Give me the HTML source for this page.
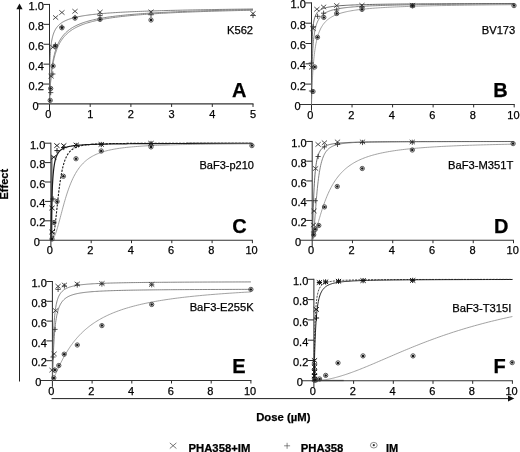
<!DOCTYPE html>
<html><head><meta charset="utf-8"><title>Figure</title>
<style>html,body{margin:0;padding:0;background:#fff;}body{width:520px;height:452px;overflow:hidden;}svg{display:block;}
svg text{font-family:"Liberation Sans",sans-serif;fill:#000;stroke:#000;stroke-width:0.25px;}</style></head>
<body><svg width="520" height="452" viewBox="0 0 520 452">
<rect width="520" height="452" fill="#fff"/>
<line x1="49.50" y1="3.95" x2="49.50" y2="110.25" stroke="#2a2a2a" stroke-width="1"/>
<line x1="37.50" y1="103.95" x2="253.50" y2="103.95" stroke="#333" stroke-width="1.3"/>
<text x="38.50" y="109.55" font-size="11" text-anchor="end">0</text>
<line x1="43.50" y1="84.05" x2="49.50" y2="84.05" stroke="#2a2a2a" stroke-width="1"/>
<text x="43.90" y="89.65" font-size="11" text-anchor="end">0.2</text>
<line x1="43.50" y1="64.15" x2="49.50" y2="64.15" stroke="#2a2a2a" stroke-width="1"/>
<text x="43.90" y="69.75" font-size="11" text-anchor="end">0.4</text>
<line x1="43.50" y1="44.25" x2="49.50" y2="44.25" stroke="#2a2a2a" stroke-width="1"/>
<text x="43.90" y="49.85" font-size="11" text-anchor="end">0.6</text>
<line x1="43.50" y1="24.35" x2="49.50" y2="24.35" stroke="#2a2a2a" stroke-width="1"/>
<text x="43.90" y="29.95" font-size="11" text-anchor="end">0.8</text>
<line x1="43.50" y1="4.45" x2="49.50" y2="4.45" stroke="#2a2a2a" stroke-width="1"/>
<text x="43.90" y="10.05" font-size="11" text-anchor="end">1.0</text>
<text x="48.30" y="118.15" font-size="11" text-anchor="middle">0</text>
<line x1="90.20" y1="103.95" x2="90.20" y2="106.95" stroke="#2a2a2a" stroke-width="1"/>
<text x="90.20" y="118.15" font-size="11" text-anchor="middle">1</text>
<line x1="130.90" y1="103.95" x2="130.90" y2="106.95" stroke="#2a2a2a" stroke-width="1"/>
<text x="130.90" y="118.15" font-size="11" text-anchor="middle">2</text>
<line x1="171.60" y1="103.95" x2="171.60" y2="106.95" stroke="#2a2a2a" stroke-width="1"/>
<text x="171.60" y="118.15" font-size="11" text-anchor="middle">3</text>
<line x1="212.30" y1="103.95" x2="212.30" y2="106.95" stroke="#2a2a2a" stroke-width="1"/>
<text x="212.30" y="118.15" font-size="11" text-anchor="middle">4</text>
<line x1="253.00" y1="103.95" x2="253.00" y2="106.95" stroke="#2a2a2a" stroke-width="1"/>
<text x="253.00" y="118.15" font-size="11" text-anchor="middle">5</text>
<text x="253.10" y="34.10" font-size="11.2" text-anchor="end">K562</text>
<text x="232.10" y="96.50" font-size="20" text-anchor="start" font-weight="bold">A</text>
<polyline points="49.50,103.95 49.50,102.05 49.50,99.18 49.51,95.91 49.52,92.45 49.54,88.95 49.56,85.47 49.58,82.06 49.61,78.77 49.65,75.60 49.70,72.58 49.75,69.70 49.81,66.96 49.88,64.37 49.96,61.92 50.05,59.60 50.14,57.41 50.25,55.34 50.36,53.39 50.49,51.54 50.62,49.79 50.77,48.14 50.93,46.58 51.09,45.11 51.27,43.71 51.46,42.38 51.67,41.12 51.88,39.93 52.11,38.80 52.35,37.72 52.60,36.70 52.86,35.72 53.14,34.79 53.43,33.91 53.74,33.06 54.05,32.26 54.39,31.49 54.73,30.75 55.09,30.05 55.47,29.38 55.86,28.73 56.26,28.11 56.68,27.52 57.12,26.95 57.57,26.41 58.04,25.88 58.52,25.38 59.02,24.90 59.53,24.43 60.06,23.98 60.61,23.55 61.17,23.13 61.75,22.73 62.35,22.34 62.97,21.97 63.60,21.61 64.25,21.26 64.92,20.92 65.60,20.59 66.30,20.28 67.02,19.97 67.76,19.68 68.52,19.39 69.30,19.11 70.09,18.85 70.91,18.59 71.74,18.33 72.59,18.09 73.46,17.85 74.35,17.62 75.26,17.39 76.19,17.18 77.14,16.96 78.11,16.76 79.10,16.56 80.11,16.36 81.14,16.17 82.20,15.99 83.27,15.81 84.36,15.63 85.47,15.46 86.61,15.30 87.76,15.14 88.94,14.98 90.14,14.82 91.36,14.67 92.60,14.53 93.87,14.38 95.15,14.24 96.46,14.11 97.79,13.97 99.14,13.84 100.52,13.72 101.92,13.59 103.34,13.47 104.78,13.35 106.25,13.24 107.74,13.12 109.25,13.01 110.78,12.90 112.34,12.80 113.93,12.69 115.53,12.59 117.16,12.49 118.82,12.39 120.50,12.30 122.20,12.21 123.93,12.11 125.68,12.02 127.45,11.94 129.25,11.85 131.08,11.76 132.93,11.68 134.80,11.60 136.70,11.52 138.63,11.44 140.58,11.36 142.55,11.29 144.55,11.21 146.58,11.14 148.63,11.07 150.71,11.00 152.82,10.93 154.95,10.86 157.10,10.80 159.28,10.73 161.49,10.67 163.73,10.60 165.99,10.54 168.28,10.48 170.59,10.42 172.94,10.36 175.31,10.30 177.70,10.25 180.13,10.19 182.58,10.14 185.05,10.08 187.56,10.03 190.09,9.98 192.65,9.93 195.24,9.87 197.86,9.82 200.50,9.78 203.18,9.73 205.88,9.68 208.61,9.63 211.36,9.59 214.15,9.54 216.96,9.50 219.81,9.45 222.68,9.41 225.58,9.37 228.51,9.32 231.47,9.28 234.46,9.24 237.47,9.20 240.52,9.16 243.59,9.12 246.70,9.08 249.84,9.04 253.00,9.01" fill="none" stroke="#666" stroke-width="0.8"/>
<polyline points="49.50,103.95 49.50,103.86 49.50,103.60 49.51,103.18 49.52,102.61 49.54,101.90 49.56,101.05 49.58,100.07 49.61,98.98 49.65,97.78 49.70,96.47 49.75,95.08 49.81,93.61 49.88,92.08 49.96,90.48 50.05,88.83 50.14,87.15 50.25,85.43 50.36,83.69 50.49,81.94 50.62,80.18 50.77,78.41 50.93,76.65 51.09,74.90 51.27,73.17 51.46,71.45 51.67,69.76 51.88,68.09 52.11,66.44 52.35,64.83 52.60,63.25 52.86,61.71 53.14,60.19 53.43,58.72 53.74,57.28 54.05,55.88 54.39,54.51 54.73,53.18 55.09,51.89 55.47,50.63 55.86,49.41 56.26,48.23 56.68,47.08 57.12,45.97 57.57,44.89 58.04,43.84 58.52,42.82 59.02,41.84 59.53,40.89 60.06,39.96 60.61,39.07 61.17,38.20 61.75,37.36 62.35,36.55 62.97,35.76 63.60,35.00 64.25,34.26 64.92,33.55 65.60,32.85 66.30,32.18 67.02,31.53 67.76,30.90 68.52,30.29 69.30,29.70 70.09,29.12 70.91,28.57 71.74,28.03 72.59,27.50 73.46,26.99 74.35,26.50 75.26,26.02 76.19,25.56 77.14,25.11 78.11,24.67 79.10,24.25 80.11,23.84 81.14,23.44 82.20,23.05 83.27,22.67 84.36,22.30 85.47,21.95 86.61,21.60 87.76,21.26 88.94,20.94 90.14,20.62 91.36,20.31 92.60,20.01 93.87,19.71 95.15,19.43 96.46,19.15 97.79,18.88 99.14,18.61 100.52,18.36 101.92,18.11 103.34,17.86 104.78,17.63 106.25,17.39 107.74,17.17 109.25,16.95 110.78,16.73 112.34,16.52 113.93,16.32 115.53,16.12 117.16,15.93 118.82,15.74 120.50,15.55 122.20,15.37 123.93,15.19 125.68,15.02 127.45,14.85 129.25,14.69 131.08,14.53 132.93,14.37 134.80,14.21 136.70,14.06 138.63,13.92 140.58,13.77 142.55,13.63 144.55,13.50 146.58,13.36 148.63,13.23 150.71,13.10 152.82,12.98 154.95,12.85 157.10,12.73 159.28,12.61 161.49,12.50 163.73,12.38 165.99,12.27 168.28,12.16 170.59,12.06 172.94,11.95 175.31,11.85 177.70,11.75 180.13,11.65 182.58,11.56 185.05,11.46 187.56,11.37 190.09,11.28 192.65,11.19 195.24,11.10 197.86,11.02 200.50,10.93 203.18,10.85 205.88,10.77 208.61,10.69 211.36,10.61 214.15,10.54 216.96,10.46 219.81,10.39 222.68,10.31 225.58,10.24 228.51,10.17 231.47,10.11 234.46,10.04 237.47,9.97 240.52,9.91 243.59,9.84 246.70,9.78 249.84,9.72 253.00,9.66" fill="none" stroke="#666" stroke-width="0.8"/>
<polyline points="49.50,103.95 49.50,103.87 49.50,103.64 49.51,103.26 49.52,102.75 49.54,102.11 49.56,101.34 49.58,100.46 49.61,99.46 49.65,98.37 49.70,97.18 49.75,95.91 49.81,94.57 49.88,93.15 49.96,91.68 50.05,90.16 50.14,88.60 50.25,87.00 50.36,85.37 50.49,83.72 50.62,82.07 50.77,80.40 50.93,78.73 51.09,77.06 51.27,75.40 51.46,73.76 51.67,72.12 51.88,70.51 52.11,68.92 52.35,67.35 52.60,65.81 52.86,64.29 53.14,62.81 53.43,61.35 53.74,59.93 54.05,58.54 54.39,57.18 54.73,55.85 55.09,54.56 55.47,53.30 55.86,52.07 56.26,50.88 56.68,49.71 57.12,48.59 57.57,47.49 58.04,46.42 58.52,45.38 59.02,44.38 59.53,43.40 60.06,42.45 60.61,41.53 61.17,40.64 61.75,39.77 62.35,38.93 62.97,38.11 63.60,37.32 64.25,36.55 64.92,35.80 65.60,35.08 66.30,34.38 67.02,33.70 67.76,33.04 68.52,32.39 69.30,31.77 70.09,31.17 70.91,30.58 71.74,30.01 72.59,29.46 73.46,28.92 74.35,28.40 75.26,27.89 76.19,27.40 77.14,26.92 78.11,26.46 79.10,26.01 80.11,25.57 81.14,25.14 82.20,24.73 83.27,24.32 84.36,23.93 85.47,23.55 86.61,23.18 87.76,22.82 88.94,22.47 90.14,22.12 91.36,21.79 92.60,21.47 93.87,21.15 95.15,20.84 96.46,20.55 97.79,20.25 99.14,19.97 100.52,19.69 101.92,19.42 103.34,19.16 104.78,18.90 106.25,18.65 107.74,18.41 109.25,18.17 110.78,17.94 112.34,17.71 113.93,17.49 115.53,17.27 117.16,17.06 118.82,16.85 120.50,16.65 122.20,16.46 123.93,16.27 125.68,16.08 127.45,15.89 129.25,15.72 131.08,15.54 132.93,15.37 134.80,15.20 136.70,15.04 138.63,14.88 140.58,14.72 142.55,14.57 144.55,14.42 146.58,14.27 148.63,14.13 150.71,13.99 152.82,13.85 154.95,13.72 157.10,13.58 159.28,13.45 161.49,13.33 163.73,13.20 165.99,13.08 168.28,12.96 170.59,12.85 172.94,12.73 175.31,12.62 177.70,12.51 180.13,12.40 182.58,12.30 185.05,12.20 187.56,12.09 190.09,11.99 192.65,11.90 195.24,11.80 197.86,11.71 200.50,11.62 203.18,11.52 205.88,11.44 208.61,11.35 211.36,11.26 214.15,11.18 216.96,11.10 219.81,11.02 222.68,10.94 225.58,10.86 228.51,10.78 231.47,10.71 234.46,10.63 237.47,10.56 240.52,10.49 243.59,10.42 246.70,10.35 249.84,10.28 253.00,10.21" fill="none" stroke="#8a8a8a" stroke-width="1.0"/>
<path d="M53.00 15.29L58.20 19.71M53.00 19.71L58.20 15.29" stroke="#2a2a2a" stroke-width="0.8" fill="none"/>
<path d="M59.30 10.29L64.50 14.71M59.30 14.71L64.50 10.29" stroke="#2a2a2a" stroke-width="0.8" fill="none"/>
<path d="M72.40 9.09L77.60 13.51M72.40 13.51L77.60 9.09" stroke="#2a2a2a" stroke-width="0.8" fill="none"/>
<path d="M97.40 9.89L102.60 14.31M97.40 14.31L102.60 9.89" stroke="#2a2a2a" stroke-width="0.8" fill="none"/>
<path d="M148.40 9.69L153.60 14.11M148.40 14.11L153.60 9.69" stroke="#2a2a2a" stroke-width="0.8" fill="none"/>
<path d="M250.40 11.29L255.60 15.71M250.40 15.71L255.60 11.29" stroke="#2a2a2a" stroke-width="0.8" fill="none"/>
<path d="M48.50 73.99L53.70 78.41M48.50 78.41L53.70 73.99" stroke="#2a2a2a" stroke-width="0.8" fill="none"/>
<path d="M50.20 45.09L55.40 49.51M50.20 49.51L55.40 45.09" stroke="#2a2a2a" stroke-width="0.8" fill="none"/>
<path d="M72.40 17.50L77.60 17.50M75.00 14.90L75.00 20.10" stroke="#2a2a2a" stroke-width="0.8" fill="none"/>
<path d="M97.40 15.60L102.60 15.60M100.00 13.00L100.00 18.20" stroke="#2a2a2a" stroke-width="0.8" fill="none"/>
<path d="M148.40 14.75L153.60 14.75M151.00 12.15L151.00 17.35" stroke="#2a2a2a" stroke-width="0.8" fill="none"/>
<path d="M250.40 15.50L255.60 15.50M253.00 12.90L253.00 18.10" stroke="#2a2a2a" stroke-width="0.8" fill="none"/>
<path d="M52.80 45.00L58.00 45.00M55.40 42.40L55.40 47.60" stroke="#2a2a2a" stroke-width="0.8" fill="none"/>
<path d="M50.20 74.00L55.40 74.00M52.80 71.40L52.80 76.60" stroke="#2a2a2a" stroke-width="0.8" fill="none"/>
<path d="M48.10 92.60L53.30 92.60M50.70 90.00L50.70 95.20" stroke="#2a2a2a" stroke-width="0.8" fill="none"/>
<path d="M59.30 27.00L64.50 27.00M61.90 24.40L61.90 29.60" stroke="#2a2a2a" stroke-width="0.8" fill="none"/>
<circle cx="61.90" cy="27.80" r="2.15" stroke="#3a3a3a" stroke-width="0.85" fill="none"/><circle cx="61.90" cy="27.80" r="1.25" fill="#151515"/>
<circle cx="75.00" cy="18.10" r="2.15" stroke="#3a3a3a" stroke-width="0.85" fill="none"/><circle cx="75.00" cy="18.10" r="1.25" fill="#151515"/>
<circle cx="100.00" cy="19.40" r="2.15" stroke="#3a3a3a" stroke-width="0.85" fill="none"/><circle cx="100.00" cy="19.40" r="1.25" fill="#151515"/>
<circle cx="151.00" cy="20.00" r="2.15" stroke="#3a3a3a" stroke-width="0.85" fill="none"/><circle cx="151.00" cy="20.00" r="1.25" fill="#151515"/>
<circle cx="55.40" cy="46.30" r="2.15" stroke="#3a3a3a" stroke-width="0.85" fill="none"/><circle cx="55.40" cy="46.30" r="1.25" fill="#151515"/>
<circle cx="53.10" cy="66.00" r="2.15" stroke="#3a3a3a" stroke-width="0.85" fill="none"/><circle cx="53.10" cy="66.00" r="1.25" fill="#151515"/>
<circle cx="50.70" cy="88.50" r="2.15" stroke="#3a3a3a" stroke-width="0.85" fill="none"/><circle cx="50.70" cy="88.50" r="1.25" fill="#151515"/>
<circle cx="50.20" cy="100.40" r="2.15" stroke="#3a3a3a" stroke-width="0.85" fill="none"/><circle cx="50.20" cy="100.40" r="1.25" fill="#151515"/>
<line x1="311.50" y1="2.40" x2="311.50" y2="110.70" stroke="#2a2a2a" stroke-width="1"/>
<line x1="299.50" y1="104.40" x2="514.70" y2="104.40" stroke="#333" stroke-width="1.05"/>
<text x="300.50" y="110.00" font-size="11" text-anchor="end">0</text>
<line x1="305.50" y1="84.10" x2="311.50" y2="84.10" stroke="#2a2a2a" stroke-width="1"/>
<text x="305.90" y="89.70" font-size="11" text-anchor="end">0.2</text>
<line x1="305.50" y1="63.80" x2="311.50" y2="63.80" stroke="#2a2a2a" stroke-width="1"/>
<text x="305.90" y="69.40" font-size="11" text-anchor="end">0.4</text>
<line x1="305.50" y1="43.50" x2="311.50" y2="43.50" stroke="#2a2a2a" stroke-width="1"/>
<text x="305.90" y="49.10" font-size="11" text-anchor="end">0.6</text>
<line x1="305.50" y1="23.20" x2="311.50" y2="23.20" stroke="#2a2a2a" stroke-width="1"/>
<text x="305.90" y="28.80" font-size="11" text-anchor="end">0.8</text>
<line x1="305.50" y1="2.90" x2="311.50" y2="2.90" stroke="#2a2a2a" stroke-width="1"/>
<text x="305.90" y="7.90" font-size="11" text-anchor="end">1.0</text>
<text x="310.30" y="118.60" font-size="11" text-anchor="middle">0</text>
<line x1="352.04" y1="104.40" x2="352.04" y2="107.40" stroke="#2a2a2a" stroke-width="1"/>
<text x="351.24" y="118.60" font-size="11" text-anchor="middle">2</text>
<line x1="392.58" y1="104.40" x2="392.58" y2="107.40" stroke="#2a2a2a" stroke-width="1"/>
<text x="391.78" y="118.60" font-size="11" text-anchor="middle">4</text>
<line x1="433.12" y1="104.40" x2="433.12" y2="107.40" stroke="#2a2a2a" stroke-width="1"/>
<text x="432.32" y="118.60" font-size="11" text-anchor="middle">6</text>
<line x1="473.66" y1="104.40" x2="473.66" y2="107.40" stroke="#2a2a2a" stroke-width="1"/>
<text x="472.86" y="118.60" font-size="11" text-anchor="middle">8</text>
<line x1="514.20" y1="104.40" x2="514.20" y2="107.40" stroke="#2a2a2a" stroke-width="1"/>
<text x="513.40" y="118.60" font-size="11" text-anchor="middle">10</text>
<text x="515.30" y="33.70" font-size="11.2" text-anchor="end">BV173</text>
<text x="493.30" y="96.60" font-size="20" text-anchor="start" font-weight="bold">B</text>
<polyline points="311.50,104.40 311.50,103.84 311.50,102.14 311.51,99.38 311.52,95.71 311.53,91.34 311.56,86.50 311.58,81.38 311.61,76.18 311.65,71.03 311.70,66.06 311.75,61.32 311.81,56.87 311.88,52.73 311.96,48.91 312.05,45.40 312.14,42.18 312.25,39.25 312.36,36.58 312.49,34.14 312.62,31.93 312.77,29.91 312.92,28.07 313.09,26.39 313.27,24.86 313.46,23.46 313.66,22.18 313.87,21.01 314.10,19.93 314.33,18.94 314.59,18.03 314.85,17.19 315.13,16.41 315.42,15.69 315.72,15.03 316.04,14.41 316.37,13.83 316.71,13.30 317.07,12.80 317.45,12.34 317.83,11.91 318.24,11.50 318.66,11.12 319.09,10.77 319.54,10.43 320.00,10.12 320.48,9.83 320.98,9.55 321.49,9.29 322.02,9.04 322.57,8.81 323.13,8.58 323.71,8.38 324.30,8.18 324.91,7.99 325.54,7.81 326.19,7.64 326.85,7.48 327.54,7.33 328.24,7.18 328.96,7.05 329.69,6.91 330.45,6.79 331.22,6.67 332.01,6.55 332.82,6.44 333.65,6.34 334.50,6.24 335.37,6.14 336.26,6.05 337.16,5.96 338.09,5.88 339.03,5.79 340.00,5.72 340.99,5.64 341.99,5.57 343.02,5.50 344.07,5.43 345.13,5.37 346.22,5.31 347.33,5.25 348.46,5.19 349.61,5.14 350.79,5.08 351.98,5.03 353.20,4.98 354.43,4.93 355.69,4.89 356.97,4.84 358.28,4.80 359.60,4.76 360.95,4.72 362.32,4.68 363.71,4.64 365.13,4.60 366.56,4.57 368.02,4.53 369.51,4.50 371.01,4.46 372.54,4.43 374.10,4.40 375.67,4.37 377.27,4.34 378.90,4.32 380.55,4.29 382.22,4.26 383.91,4.24 385.63,4.21 387.38,4.19 389.15,4.16 390.94,4.14 392.76,4.12 394.60,4.10 396.47,4.07 398.36,4.05 400.28,4.03 402.22,4.01 404.19,3.99 406.18,3.98 408.20,3.96 410.24,3.94 412.31,3.92 414.41,3.91 416.53,3.89 418.68,3.87 420.85,3.86 423.05,3.84 425.28,3.83 427.53,3.81 429.81,3.80 432.12,3.78 434.45,3.77 436.81,3.76 439.20,3.75 441.61,3.73 444.05,3.72 446.52,3.71 449.02,3.70 451.54,3.68 454.09,3.67 456.67,3.66 459.28,3.65 461.91,3.64 464.57,3.63 467.26,3.62 469.98,3.61 472.73,3.60 475.50,3.59 478.30,3.58 481.14,3.57 484.00,3.56 486.89,3.55 489.80,3.54 492.75,3.54 495.73,3.53 498.73,3.52 501.77,3.51 504.83,3.50 507.92,3.50 511.05,3.49 514.20,3.48" fill="none" stroke="#444" stroke-width="0.8"/>
<polyline points="311.50,104.40 311.50,104.26 311.50,103.76 311.51,102.86 311.52,101.53 311.53,99.79 311.56,97.67 311.58,95.20 311.61,92.43 311.65,89.41 311.70,86.20 311.75,82.86 311.81,79.43 311.88,75.97 311.96,72.51 312.05,69.11 312.14,65.77 312.25,62.53 312.36,59.41 312.49,56.41 312.62,53.55 312.77,50.83 312.92,48.25 313.09,45.81 313.27,43.51 313.46,41.34 313.66,39.31 313.87,37.39 314.10,35.59 314.33,33.91 314.59,32.32 314.85,30.84 315.13,29.45 315.42,28.14 315.72,26.92 316.04,25.77 316.37,24.69 316.71,23.68 317.07,22.72 317.45,21.83 317.83,20.98 318.24,20.19 318.66,19.44 319.09,18.74 319.54,18.07 320.00,17.45 320.48,16.86 320.98,16.30 321.49,15.77 322.02,15.27 322.57,14.79 323.13,14.34 323.71,13.91 324.30,13.51 324.91,13.13 325.54,12.76 326.19,12.41 326.85,12.08 327.54,11.77 328.24,11.47 328.96,11.18 329.69,10.91 330.45,10.65 331.22,10.40 332.01,10.16 332.82,9.94 333.65,9.72 334.50,9.51 335.37,9.31 336.26,9.12 337.16,8.94 338.09,8.77 339.03,8.60 340.00,8.44 340.99,8.28 341.99,8.14 343.02,7.99 344.07,7.85 345.13,7.72 346.22,7.60 347.33,7.47 348.46,7.36 349.61,7.24 350.79,7.13 351.98,7.03 353.20,6.92 354.43,6.83 355.69,6.73 356.97,6.64 358.28,6.55 359.60,6.47 360.95,6.38 362.32,6.30 363.71,6.23 365.13,6.15 366.56,6.08 368.02,6.01 369.51,5.94 371.01,5.87 372.54,5.81 374.10,5.75 375.67,5.69 377.27,5.63 378.90,5.57 380.55,5.52 382.22,5.47 383.91,5.41 385.63,5.36 387.38,5.32 389.15,5.27 390.94,5.22 392.76,5.18 394.60,5.13 396.47,5.09 398.36,5.05 400.28,5.01 402.22,4.97 404.19,4.93 406.18,4.90 408.20,4.86 410.24,4.83 412.31,4.79 414.41,4.76 416.53,4.73 418.68,4.69 420.85,4.66 423.05,4.63 425.28,4.60 427.53,4.57 429.81,4.55 432.12,4.52 434.45,4.49 436.81,4.47 439.20,4.44 441.61,4.42 444.05,4.39 446.52,4.37 449.02,4.35 451.54,4.32 454.09,4.30 456.67,4.28 459.28,4.26 461.91,4.24 464.57,4.22 467.26,4.20 469.98,4.18 472.73,4.16 475.50,4.14 478.30,4.12 481.14,4.10 484.00,4.09 486.89,4.07 489.80,4.05 492.75,4.04 495.73,4.02 498.73,4.01 501.77,3.99 504.83,3.98 507.92,3.96 511.05,3.95 514.20,3.93" fill="none" stroke="#666" stroke-width="0.8"/>
<polyline points="311.50,104.40 311.50,104.37 311.50,104.23 311.51,103.95 311.52,103.52 311.53,102.91 311.56,102.13 311.58,101.15 311.61,99.99 311.65,98.65 311.70,97.14 311.75,95.45 311.81,93.62 311.88,91.65 311.96,89.55 312.05,87.35 312.14,85.06 312.25,82.71 312.36,80.30 312.49,77.87 312.62,75.41 312.77,72.95 312.92,70.50 313.09,68.08 313.27,65.69 313.46,63.34 313.66,61.05 313.87,58.81 314.10,56.63 314.33,54.52 314.59,52.48 314.85,50.50 315.13,48.60 315.42,46.78 315.72,45.02 316.04,43.33 316.37,41.72 316.71,40.17 317.07,38.69 317.45,37.27 317.83,35.92 318.24,34.63 318.66,33.39 319.09,32.21 319.54,31.09 320.00,30.01 320.48,28.99 320.98,28.01 321.49,27.08 322.02,26.19 322.57,25.34 323.13,24.53 323.71,23.75 324.30,23.01 324.91,22.31 325.54,21.63 326.19,20.99 326.85,20.37 327.54,19.78 328.24,19.22 328.96,18.68 329.69,18.16 330.45,17.67 331.22,17.20 332.01,16.74 332.82,16.31 333.65,15.89 334.50,15.49 335.37,15.11 336.26,14.74 337.16,14.39 338.09,14.05 339.03,13.72 340.00,13.41 340.99,13.11 341.99,12.82 343.02,12.54 344.07,12.28 345.13,12.02 346.22,11.77 347.33,11.53 348.46,11.30 349.61,11.08 350.79,10.87 351.98,10.66 353.20,10.46 354.43,10.27 355.69,10.08 356.97,9.90 358.28,9.73 359.60,9.56 360.95,9.40 362.32,9.25 363.71,9.10 365.13,8.95 366.56,8.81 368.02,8.67 369.51,8.54 371.01,8.41 372.54,8.29 374.10,8.17 375.67,8.05 377.27,7.94 378.90,7.83 380.55,7.72 382.22,7.62 383.91,7.52 385.63,7.42 387.38,7.32 389.15,7.23 390.94,7.14 392.76,7.06 394.60,6.97 396.47,6.89 398.36,6.81 400.28,6.73 402.22,6.66 404.19,6.59 406.18,6.51 408.20,6.45 410.24,6.38 412.31,6.31 414.41,6.25 416.53,6.19 418.68,6.13 420.85,6.07 423.05,6.01 425.28,5.95 427.53,5.90 429.81,5.85 432.12,5.79 434.45,5.74 436.81,5.69 439.20,5.64 441.61,5.60 444.05,5.55 446.52,5.51 449.02,5.46 451.54,5.42 454.09,5.38 456.67,5.34 459.28,5.30 461.91,5.26 464.57,5.22 467.26,5.18 469.98,5.15 472.73,5.11 475.50,5.08 478.30,5.04 481.14,5.01 484.00,4.98 486.89,4.94 489.80,4.91 492.75,4.88 495.73,4.85 498.73,4.82 501.77,4.80 504.83,4.77 507.92,4.74 511.05,4.71 514.20,4.69" fill="none" stroke="#8a8a8a" stroke-width="0.8"/>
<path d="M314.30 6.99L319.50 11.41M314.30 11.41L319.50 6.99" stroke="#2a2a2a" stroke-width="0.8" fill="none"/>
<path d="M321.00 4.79L326.20 9.21M321.00 9.21L326.20 4.79" stroke="#2a2a2a" stroke-width="0.8" fill="none"/>
<path d="M334.10 3.29L339.30 7.71M334.10 7.71L339.30 3.29" stroke="#2a2a2a" stroke-width="0.8" fill="none"/>
<path d="M359.30 3.04L364.50 7.46M359.30 7.46L364.50 3.04" stroke="#2a2a2a" stroke-width="0.8" fill="none"/>
<path d="M310.50 26.29L315.70 30.71M310.50 30.71L315.70 26.29" stroke="#2a2a2a" stroke-width="0.8" fill="none"/>
<path d="M409.90 3.09L415.10 7.51M409.90 7.51L415.10 3.09" stroke="#2a2a2a" stroke-width="0.8" fill="none"/>
<path d="M309.00 65.09L314.20 69.51M309.00 69.51L314.20 65.09" stroke="#2a2a2a" stroke-width="0.8" fill="none"/>
<path d="M315.00 16.30L320.20 16.30M317.60 13.70L317.60 18.90" stroke="#2a2a2a" stroke-width="0.8" fill="none"/>
<path d="M321.00 13.20L326.20 13.20M323.60 10.60L323.60 15.80" stroke="#2a2a2a" stroke-width="0.8" fill="none"/>
<path d="M334.10 10.00L339.30 10.00M336.70 7.40L336.70 12.60" stroke="#2a2a2a" stroke-width="0.8" fill="none"/>
<path d="M359.40 6.90L364.60 6.90M362.00 4.30L362.00 9.50" stroke="#2a2a2a" stroke-width="0.8" fill="none"/>
<path d="M310.50 26.80L315.70 26.80M313.10 24.20L313.10 29.40" stroke="#2a2a2a" stroke-width="0.8" fill="none"/>
<path d="M409.90 5.60L415.10 5.60M412.50 3.00L412.50 8.20" stroke="#2a2a2a" stroke-width="0.8" fill="none"/>
<path d="M308.70 63.00L313.90 63.00M311.30 60.40L311.30 65.60" stroke="#2a2a2a" stroke-width="0.8" fill="none"/>
<path d="M308.90 91.00L314.10 91.00M311.50 88.40L311.50 93.60" stroke="#2a2a2a" stroke-width="0.8" fill="none"/>
<circle cx="317.50" cy="37.25" r="2.15" stroke="#3a3a3a" stroke-width="0.85" fill="none"/><circle cx="317.50" cy="37.25" r="1.25" fill="#151515"/>
<circle cx="323.80" cy="17.40" r="2.15" stroke="#3a3a3a" stroke-width="0.85" fill="none"/><circle cx="323.80" cy="17.40" r="1.25" fill="#151515"/>
<circle cx="336.70" cy="13.50" r="2.15" stroke="#3a3a3a" stroke-width="0.85" fill="none"/><circle cx="336.70" cy="13.50" r="1.25" fill="#151515"/>
<circle cx="362.00" cy="9.40" r="2.15" stroke="#3a3a3a" stroke-width="0.85" fill="none"/><circle cx="362.00" cy="9.40" r="1.25" fill="#151515"/>
<circle cx="412.50" cy="5.80" r="2.15" stroke="#3a3a3a" stroke-width="0.85" fill="none"/><circle cx="412.50" cy="5.80" r="1.25" fill="#151515"/>
<circle cx="514.00" cy="5.60" r="2.15" stroke="#3a3a3a" stroke-width="0.85" fill="none"/><circle cx="514.00" cy="5.60" r="1.25" fill="#151515"/>
<circle cx="314.70" cy="67.00" r="2.15" stroke="#3a3a3a" stroke-width="0.85" fill="none"/><circle cx="314.70" cy="67.00" r="1.25" fill="#151515"/>
<circle cx="313.00" cy="91.50" r="2.15" stroke="#3a3a3a" stroke-width="0.85" fill="none"/><circle cx="313.00" cy="91.50" r="1.25" fill="#151515"/>
<line x1="50.90" y1="142.70" x2="50.90" y2="246.50" stroke="#2a2a2a" stroke-width="1"/>
<line x1="38.90" y1="240.20" x2="252.90" y2="240.20" stroke="#333" stroke-width="1.05"/>
<text x="39.90" y="245.80" font-size="11" text-anchor="end">0</text>
<line x1="44.90" y1="220.80" x2="50.90" y2="220.80" stroke="#2a2a2a" stroke-width="1"/>
<text x="45.30" y="226.40" font-size="11" text-anchor="end">0.2</text>
<line x1="44.90" y1="201.40" x2="50.90" y2="201.40" stroke="#2a2a2a" stroke-width="1"/>
<text x="45.30" y="207.00" font-size="11" text-anchor="end">0.4</text>
<line x1="44.90" y1="182.00" x2="50.90" y2="182.00" stroke="#2a2a2a" stroke-width="1"/>
<text x="45.30" y="187.60" font-size="11" text-anchor="end">0.6</text>
<line x1="44.90" y1="162.60" x2="50.90" y2="162.60" stroke="#2a2a2a" stroke-width="1"/>
<text x="45.30" y="168.20" font-size="11" text-anchor="end">0.8</text>
<line x1="44.90" y1="143.20" x2="50.90" y2="143.20" stroke="#2a2a2a" stroke-width="1"/>
<text x="45.30" y="148.80" font-size="11" text-anchor="end">1.0</text>
<text x="49.70" y="254.40" font-size="11" text-anchor="middle">0</text>
<line x1="91.20" y1="240.20" x2="91.20" y2="243.20" stroke="#2a2a2a" stroke-width="1"/>
<text x="90.40" y="254.40" font-size="11" text-anchor="middle">2</text>
<line x1="131.50" y1="240.20" x2="131.50" y2="243.20" stroke="#2a2a2a" stroke-width="1"/>
<text x="130.70" y="254.40" font-size="11" text-anchor="middle">4</text>
<line x1="171.80" y1="240.20" x2="171.80" y2="243.20" stroke="#2a2a2a" stroke-width="1"/>
<text x="171.00" y="254.40" font-size="11" text-anchor="middle">6</text>
<line x1="212.10" y1="240.20" x2="212.10" y2="243.20" stroke="#2a2a2a" stroke-width="1"/>
<text x="211.30" y="254.40" font-size="11" text-anchor="middle">8</text>
<line x1="252.40" y1="240.20" x2="252.40" y2="243.20" stroke="#2a2a2a" stroke-width="1"/>
<text x="251.60" y="254.40" font-size="11" text-anchor="middle">10</text>
<text x="253.90" y="168.50" font-size="11.0" text-anchor="end">BaF3-p210</text>
<text x="232.20" y="233.00" font-size="20" text-anchor="start" font-weight="bold">C</text>
<line x1="51.90" y1="156.00" x2="51.90" y2="240.00" stroke="#333" stroke-width="1.0"/>
<polyline points="50.90,240.20 50.90,240.19 50.90,240.14 50.91,239.98 50.92,239.66 50.93,239.11 50.95,238.30 50.98,237.15 51.01,235.65 51.05,233.76 51.10,231.48 51.15,228.80 51.21,225.77 51.28,222.42 51.36,218.81 51.44,215.00 51.54,211.07 51.64,207.06 51.76,203.06 51.88,199.12 52.01,195.29 52.16,191.60 52.31,188.08 52.48,184.75 52.66,181.63 52.84,178.71 53.04,176.00 53.26,173.49 53.48,171.17 53.72,169.04 53.97,167.08 54.23,165.29 54.50,163.64 54.79,162.13 55.09,160.75 55.41,159.49 55.74,158.33 56.08,157.27 56.44,156.29 56.81,155.40 57.20,154.58 57.60,153.83 58.01,153.14 58.44,152.50 58.89,151.91 59.35,151.37 59.83,150.87 60.32,150.41 60.83,149.98 61.36,149.59 61.90,149.22 62.46,148.88 63.03,148.57 63.63,148.27 64.23,148.00 64.86,147.74 65.50,147.51 66.16,147.28 66.84,147.08 67.54,146.88 68.25,146.70 68.98,146.53 69.73,146.37 70.50,146.22 71.29,146.08 72.10,145.95 72.92,145.82 73.76,145.71 74.63,145.60 75.51,145.49 76.41,145.39 77.33,145.30 78.27,145.21 79.23,145.13 80.21,145.05 81.21,144.98 82.23,144.90 83.27,144.84 84.34,144.77 85.42,144.71 86.52,144.66 87.64,144.60 88.79,144.55 89.95,144.50 91.14,144.45 92.35,144.41 93.58,144.37 94.83,144.32 96.10,144.29 97.40,144.25 98.72,144.21 100.06,144.18 101.42,144.15 102.80,144.11 104.21,144.08 105.64,144.06 107.09,144.03 108.56,144.00 110.06,143.98 111.58,143.95 113.13,143.93 114.69,143.91 116.28,143.89 117.90,143.87 119.54,143.85 121.20,143.83 122.88,143.81 124.59,143.79 126.33,143.78 128.09,143.76 129.87,143.74 131.68,143.73 133.51,143.71 135.36,143.70 137.25,143.69 139.15,143.67 141.08,143.66 143.04,143.65 145.02,143.64 147.03,143.63 149.06,143.61 151.12,143.60 153.20,143.59 155.31,143.58 157.44,143.57 159.61,143.57 161.79,143.56 164.01,143.55 166.25,143.54 168.51,143.53 170.80,143.52 173.12,143.52 175.47,143.51 177.84,143.50 180.24,143.49 182.67,143.49 185.12,143.48 187.60,143.47 190.11,143.47 192.65,143.46 195.21,143.46 197.80,143.45 200.42,143.45 203.07,143.44 205.74,143.43 208.44,143.43 211.17,143.43 213.93,143.42 216.72,143.42 219.53,143.41 222.38,143.41 225.25,143.40 228.15,143.40 231.08,143.39 234.04,143.39 237.02,143.39 240.04,143.38 243.09,143.38 246.16,143.38 249.27,143.37 252.40,143.37" fill="none" stroke="#1a1a1a" stroke-width="1.2"/>
<polyline points="50.90,240.20 50.90,240.20 50.90,240.20 50.91,240.20 50.92,240.20 50.93,240.20 50.95,240.20 50.98,240.20 51.01,240.20 51.05,240.20 51.10,240.20 51.15,240.19 51.21,240.18 51.28,240.17 51.36,240.16 51.44,240.13 51.54,240.09 51.64,240.04 51.76,239.96 51.88,239.86 52.01,239.71 52.16,239.53 52.31,239.28 52.48,238.96 52.66,238.56 52.84,238.05 53.04,237.41 53.26,236.63 53.48,235.68 53.72,234.55 53.97,233.20 54.23,231.62 54.50,229.79 54.79,227.69 55.09,225.33 55.41,222.70 55.74,219.80 56.08,216.66 56.44,213.31 56.81,209.77 57.20,206.09 57.60,202.32 58.01,198.51 58.44,194.70 58.89,190.94 59.35,187.27 59.83,183.74 60.32,180.36 60.83,177.16 61.36,174.15 61.90,171.35 62.46,168.76 63.03,166.37 63.63,164.18 64.23,162.18 64.86,160.36 65.50,158.71 66.16,157.21 66.84,155.86 67.54,154.65 68.25,153.55 68.98,152.56 69.73,151.67 70.50,150.88 71.29,150.16 72.10,149.51 72.92,148.93 73.76,148.41 74.63,147.93 75.51,147.51 76.41,147.13 77.33,146.78 78.27,146.47 79.23,146.19 80.21,145.93 81.21,145.70 82.23,145.49 83.27,145.30 84.34,145.13 85.42,144.98 86.52,144.83 87.64,144.70 88.79,144.59 89.95,144.48 91.14,144.38 92.35,144.29 93.58,144.21 94.83,144.13 96.10,144.07 97.40,144.00 98.72,143.94 100.06,143.89 101.42,143.84 102.80,143.80 104.21,143.76 105.64,143.72 107.09,143.68 108.56,143.65 110.06,143.62 111.58,143.59 113.13,143.57 114.69,143.54 116.28,143.52 117.90,143.50 119.54,143.48 121.20,143.46 122.88,143.45 124.59,143.43 126.33,143.42 128.09,143.41 129.87,143.39 131.68,143.38 133.51,143.37 135.36,143.36 137.25,143.35 139.15,143.34 141.08,143.34 143.04,143.33 145.02,143.32 147.03,143.31 149.06,143.31 151.12,143.30 153.20,143.30 155.31,143.29 157.44,143.29 159.61,143.28 161.79,143.28 164.01,143.27 166.25,143.27 168.51,143.27 170.80,143.26 173.12,143.26 175.47,143.26 177.84,143.25 180.24,143.25 182.67,143.25 185.12,143.25 187.60,143.24 190.11,143.24 192.65,143.24 195.21,143.24 197.80,143.24 200.42,143.23 203.07,143.23 205.74,143.23 208.44,143.23 211.17,143.23 213.93,143.23 216.72,143.23 219.53,143.22 222.38,143.22 225.25,143.22 228.15,143.22 231.08,143.22 234.04,143.22 237.02,143.22 240.04,143.22 243.09,143.22 246.16,143.22 249.27,143.22 252.40,143.22" fill="none" stroke="#1a1a1a" stroke-width="1.1" stroke-dasharray="2.2 1.3"/>
<polyline points="50.90,240.20 50.90,240.20 50.90,240.20 50.91,240.20 50.92,240.20 50.93,240.20 50.95,240.20 50.98,240.20 51.01,240.20 51.05,240.19 51.10,240.19 51.15,240.18 51.21,240.17 51.28,240.16 51.36,240.14 51.44,240.11 51.54,240.08 51.64,240.04 51.76,239.98 51.88,239.91 52.01,239.83 52.16,239.72 52.31,239.59 52.48,239.44 52.66,239.25 52.84,239.04 53.04,238.78 53.26,238.48 53.48,238.14 53.72,237.74 53.97,237.29 54.23,236.78 54.50,236.20 54.79,235.55 55.09,234.82 55.41,234.02 55.74,233.13 56.08,232.15 56.44,231.08 56.81,229.92 57.20,228.66 57.60,227.31 58.01,225.87 58.44,224.33 58.89,222.71 59.35,220.99 59.83,219.20 60.32,217.33 60.83,215.39 61.36,213.39 61.90,211.34 62.46,209.24 63.03,207.10 63.63,204.94 64.23,202.76 64.86,200.58 65.50,198.40 66.16,196.23 66.84,194.08 67.54,191.96 68.25,189.87 68.98,187.82 69.73,185.82 70.50,183.87 71.29,181.98 72.10,180.15 72.92,178.37 73.76,176.67 74.63,175.02 75.51,173.44 76.41,171.93 77.33,170.48 78.27,169.10 79.23,167.78 80.21,166.52 81.21,165.32 82.23,164.19 83.27,163.11 84.34,162.08 85.42,161.11 86.52,160.18 87.64,159.31 88.79,158.48 89.95,157.70 91.14,156.96 92.35,156.26 93.58,155.60 94.83,154.97 96.10,154.38 97.40,153.82 98.72,153.29 100.06,152.79 101.42,152.31 102.80,151.87 104.21,151.44 105.64,151.04 107.09,150.67 108.56,150.31 110.06,149.97 111.58,149.65 113.13,149.35 114.69,149.06 116.28,148.79 117.90,148.53 119.54,148.29 121.20,148.05 122.88,147.83 124.59,147.63 126.33,147.43 128.09,147.24 129.87,147.07 131.68,146.90 133.51,146.74 135.36,146.58 137.25,146.44 139.15,146.30 141.08,146.17 143.04,146.05 145.02,145.93 147.03,145.82 149.06,145.71 151.12,145.61 153.20,145.51 155.31,145.42 157.44,145.33 159.61,145.25 161.79,145.17 164.01,145.09 166.25,145.02 168.51,144.95 170.80,144.88 173.12,144.82 175.47,144.76 177.84,144.70 180.24,144.64 182.67,144.59 185.12,144.54 187.60,144.49 190.11,144.44 192.65,144.40 195.21,144.36 197.80,144.31 200.42,144.28 203.07,144.24 205.74,144.20 208.44,144.17 211.17,144.13 213.93,144.10 216.72,144.07 219.53,144.04 222.38,144.01 225.25,143.99 228.15,143.96 231.08,143.94 234.04,143.91 237.02,143.89 240.04,143.87 243.09,143.85 246.16,143.83 249.27,143.81 252.40,143.79" fill="none" stroke="#8a8a8a" stroke-width="0.8"/>
<path d="M54.30 143.39L59.50 147.81M54.30 147.81L59.50 143.39" stroke="#151515" stroke-width="0.95" fill="none"/>
<path d="M61.15 143.39L66.35 147.81M61.15 147.81L66.35 143.39" stroke="#151515" stroke-width="0.95" fill="none"/>
<path d="M73.65 142.79L78.85 147.21M73.65 147.21L78.85 142.79" stroke="#151515" stroke-width="0.95" fill="none"/>
<path d="M98.65 142.19L103.85 146.61M98.65 146.61L103.85 142.19" stroke="#151515" stroke-width="0.95" fill="none"/>
<path d="M51.15 155.04L56.35 159.46M51.15 159.46L56.35 155.04" stroke="#151515" stroke-width="0.95" fill="none"/>
<path d="M148.40 141.09L153.60 145.51M148.40 145.51L153.60 141.09" stroke="#151515" stroke-width="0.95" fill="none"/>
<path d="M49.40 205.79L54.60 210.21M49.40 210.21L54.60 205.79" stroke="#151515" stroke-width="0.95" fill="none"/>
<path d="M49.40 229.79L54.60 234.21M49.40 234.21L54.60 229.79" stroke="#151515" stroke-width="0.95" fill="none"/>
<path d="M54.40 150.60L59.60 150.60M57.00 148.00L57.00 153.20" stroke="#151515" stroke-width="0.95" fill="none"/>
<path d="M61.15 147.50L66.35 147.50M63.75 144.90L63.75 150.10" stroke="#151515" stroke-width="0.95" fill="none"/>
<path d="M73.65 145.50L78.85 145.50M76.25 142.90L76.25 148.10" stroke="#151515" stroke-width="0.95" fill="none"/>
<path d="M98.65 144.50L103.85 144.50M101.25 141.90L101.25 147.10" stroke="#151515" stroke-width="0.95" fill="none"/>
<path d="M148.40 143.50L153.60 143.50M151.00 140.90L151.00 146.10" stroke="#151515" stroke-width="0.95" fill="none"/>
<path d="M50.40 199.00L55.60 199.00M53.00 196.40L53.00 201.60" stroke="#151515" stroke-width="0.95" fill="none"/>
<circle cx="63.40" cy="176.25" r="2.15" stroke="#3a3a3a" stroke-width="0.85" fill="none"/><circle cx="63.40" cy="176.25" r="1.25" fill="#151515"/>
<circle cx="76.00" cy="158.75" r="2.15" stroke="#3a3a3a" stroke-width="0.85" fill="none"/><circle cx="76.00" cy="158.75" r="1.25" fill="#151515"/>
<circle cx="101.25" cy="151.00" r="2.15" stroke="#3a3a3a" stroke-width="0.85" fill="none"/><circle cx="101.25" cy="151.00" r="1.25" fill="#151515"/>
<circle cx="151.00" cy="146.90" r="2.15" stroke="#3a3a3a" stroke-width="0.85" fill="none"/><circle cx="151.00" cy="146.90" r="1.25" fill="#151515"/>
<circle cx="251.90" cy="145.60" r="2.15" stroke="#3a3a3a" stroke-width="0.85" fill="none"/><circle cx="251.90" cy="145.60" r="1.25" fill="#151515"/>
<circle cx="57.10" cy="201.50" r="2.15" stroke="#3a3a3a" stroke-width="0.85" fill="none"/><circle cx="57.10" cy="201.50" r="1.25" fill="#151515"/>
<circle cx="54.00" cy="222.50" r="2.15" stroke="#3a3a3a" stroke-width="0.85" fill="none"/><circle cx="54.00" cy="222.50" r="1.25" fill="#151515"/>
<circle cx="52.00" cy="239.00" r="2.15" stroke="#3a3a3a" stroke-width="0.85" fill="none"/><circle cx="52.00" cy="239.00" r="1.25" fill="#151515"/>
<line x1="312.20" y1="140.95" x2="312.20" y2="246.50" stroke="#2a2a2a" stroke-width="1"/>
<line x1="300.20" y1="240.20" x2="514.00" y2="240.20" stroke="#333" stroke-width="1.05"/>
<text x="301.20" y="245.80" font-size="11" text-anchor="end">0</text>
<line x1="306.20" y1="220.45" x2="312.20" y2="220.45" stroke="#2a2a2a" stroke-width="1"/>
<text x="306.60" y="226.05" font-size="11" text-anchor="end">0.2</text>
<line x1="306.20" y1="200.70" x2="312.20" y2="200.70" stroke="#2a2a2a" stroke-width="1"/>
<text x="306.60" y="206.30" font-size="11" text-anchor="end">0.4</text>
<line x1="306.20" y1="180.95" x2="312.20" y2="180.95" stroke="#2a2a2a" stroke-width="1"/>
<text x="306.60" y="186.55" font-size="11" text-anchor="end">0.6</text>
<line x1="306.20" y1="161.20" x2="312.20" y2="161.20" stroke="#2a2a2a" stroke-width="1"/>
<text x="306.60" y="166.80" font-size="11" text-anchor="end">0.8</text>
<line x1="306.20" y1="141.45" x2="312.20" y2="141.45" stroke="#2a2a2a" stroke-width="1"/>
<text x="306.60" y="147.05" font-size="11" text-anchor="end">1.0</text>
<text x="311.00" y="254.40" font-size="11" text-anchor="middle">0</text>
<line x1="352.46" y1="240.20" x2="352.46" y2="243.20" stroke="#2a2a2a" stroke-width="1"/>
<text x="351.66" y="254.40" font-size="11" text-anchor="middle">2</text>
<line x1="392.72" y1="240.20" x2="392.72" y2="243.20" stroke="#2a2a2a" stroke-width="1"/>
<text x="391.92" y="254.40" font-size="11" text-anchor="middle">4</text>
<line x1="432.98" y1="240.20" x2="432.98" y2="243.20" stroke="#2a2a2a" stroke-width="1"/>
<text x="432.18" y="254.40" font-size="11" text-anchor="middle">6</text>
<line x1="473.24" y1="240.20" x2="473.24" y2="243.20" stroke="#2a2a2a" stroke-width="1"/>
<text x="472.44" y="254.40" font-size="11" text-anchor="middle">8</text>
<line x1="513.50" y1="240.20" x2="513.50" y2="243.20" stroke="#2a2a2a" stroke-width="1"/>
<text x="512.70" y="254.40" font-size="11" text-anchor="middle">10</text>
<text x="513.30" y="169.20" font-size="11.2" text-anchor="end">BaF3-M351T</text>
<text x="494.10" y="232.50" font-size="20" text-anchor="start" font-weight="bold">D</text>
<polyline points="312.20,240.20 312.20,240.20 312.20,240.19 312.21,240.16 312.22,240.08 312.23,239.93 312.25,239.66 312.28,239.25 312.31,238.64 312.35,237.79 312.40,236.66 312.45,235.22 312.51,233.43 312.58,231.27 312.66,228.74 312.74,225.85 312.84,222.62 312.94,219.10 313.05,215.32 313.18,211.36 313.31,207.29 313.46,203.16 313.61,199.04 313.78,194.99 313.95,191.06 314.14,187.29 314.34,183.70 314.55,180.32 314.78,177.16 315.02,174.21 315.26,171.49 315.53,168.99 315.80,166.69 316.09,164.58 316.39,162.66 316.71,160.90 317.03,159.30 317.38,157.85 317.73,156.53 318.10,155.33 318.49,154.23 318.89,153.24 319.31,152.33 319.74,151.50 320.18,150.75 320.64,150.07 321.12,149.44 321.61,148.87 322.12,148.34 322.65,147.86 323.19,147.42 323.75,147.02 324.32,146.65 324.91,146.31 325.52,146.00 326.15,145.71 326.79,145.44 327.45,145.19 328.13,144.96 328.82,144.75 329.53,144.56 330.27,144.38 331.02,144.21 331.78,144.05 332.57,143.91 333.38,143.77 334.20,143.64 335.04,143.53 335.90,143.42 336.78,143.31 337.69,143.22 338.61,143.13 339.54,143.04 340.50,142.96 341.48,142.89 342.48,142.82 343.50,142.76 344.54,142.69 345.60,142.64 346.68,142.58 347.79,142.53 348.91,142.48 350.05,142.43 351.22,142.39 352.40,142.35 353.61,142.31 354.84,142.28 356.09,142.24 357.36,142.21 358.65,142.18 359.97,142.15 361.31,142.12 362.67,142.09 364.05,142.07 365.46,142.04 366.88,142.02 368.33,142.00 369.81,141.98 371.30,141.96 372.82,141.94 374.36,141.92 375.93,141.90 377.52,141.89 379.13,141.87 380.77,141.86 382.43,141.84 384.11,141.83 385.82,141.82 387.55,141.80 389.31,141.79 391.09,141.78 392.90,141.77 394.73,141.76 396.58,141.75 398.46,141.74 400.36,141.73 402.29,141.72 404.25,141.71 406.23,141.70 408.23,141.70 410.26,141.69 412.32,141.68 414.40,141.67 416.51,141.67 418.64,141.66 420.80,141.65 422.98,141.65 425.19,141.64 427.43,141.64 429.69,141.63 431.98,141.63 434.30,141.62 436.65,141.62 439.02,141.61 441.41,141.61 443.84,141.60 446.29,141.60 448.77,141.59 451.27,141.59 453.81,141.59 456.37,141.58 458.95,141.58 461.57,141.58 464.21,141.57 466.89,141.57 469.59,141.57 472.31,141.56 475.07,141.56 477.85,141.56 480.66,141.56 483.51,141.55 486.38,141.55 489.27,141.55 492.20,141.55 495.16,141.54 498.14,141.54 501.15,141.54 504.20,141.54 507.27,141.53 510.37,141.53 513.50,141.53" fill="none" stroke="#444" stroke-width="0.8"/>
<polyline points="312.20,240.20 312.20,240.20 312.20,240.20 312.21,240.20 312.22,240.20 312.23,240.20 312.25,240.19 312.28,240.18 312.31,240.16 312.35,240.13 312.40,240.09 312.45,240.01 312.51,239.90 312.58,239.75 312.66,239.54 312.74,239.25 312.84,238.88 312.94,238.39 313.05,237.77 313.18,237.00 313.31,236.06 313.46,234.91 313.61,233.55 313.78,231.94 313.95,230.09 314.14,227.97 314.34,225.59 314.55,222.95 314.78,220.06 315.02,216.94 315.26,213.63 315.53,210.16 315.80,206.56 316.09,202.89 316.39,199.19 316.71,195.50 317.03,191.86 317.38,188.32 317.73,184.89 318.10,181.60 318.49,178.48 318.89,175.53 319.31,172.76 319.74,170.18 320.18,167.79 320.64,165.57 321.12,163.53 321.61,161.66 322.12,159.94 322.65,158.37 323.19,156.93 323.75,155.62 324.32,154.43 324.91,153.34 325.52,152.35 326.15,151.45 326.79,150.63 327.45,149.89 328.13,149.21 328.82,148.59 329.53,148.03 330.27,147.52 331.02,147.05 331.78,146.62 332.57,146.23 333.38,145.87 334.20,145.55 335.04,145.25 335.90,144.97 336.78,144.72 337.69,144.49 338.61,144.28 339.54,144.08 340.50,143.90 341.48,143.74 342.48,143.59 343.50,143.45 344.54,143.32 345.60,143.20 346.68,143.09 347.79,142.98 348.91,142.89 350.05,142.80 351.22,142.72 352.40,142.64 353.61,142.57 354.84,142.50 356.09,142.44 357.36,142.38 358.65,142.33 359.97,142.28 361.31,142.24 362.67,142.19 364.05,142.15 365.46,142.11 366.88,142.08 368.33,142.04 369.81,142.01 371.30,141.98 372.82,141.96 374.36,141.93 375.93,141.91 377.52,141.88 379.13,141.86 380.77,141.84 382.43,141.82 384.11,141.80 385.82,141.79 387.55,141.77 389.31,141.76 391.09,141.74 392.90,141.73 394.73,141.72 396.58,141.70 398.46,141.69 400.36,141.68 402.29,141.67 404.25,141.66 406.23,141.65 408.23,141.64 410.26,141.63 412.32,141.63 414.40,141.62 416.51,141.61 418.64,141.61 420.80,141.60 422.98,141.59 425.19,141.59 427.43,141.58 429.69,141.58 431.98,141.57 434.30,141.57 436.65,141.56 439.02,141.56 441.41,141.55 443.84,141.55 446.29,141.55 448.77,141.54 451.27,141.54 453.81,141.54 456.37,141.53 458.95,141.53 461.57,141.53 464.21,141.52 466.89,141.52 469.59,141.52 472.31,141.52 475.07,141.51 477.85,141.51 480.66,141.51 483.51,141.51 486.38,141.51 489.27,141.50 492.20,141.50 495.16,141.50 498.14,141.50 501.15,141.50 504.20,141.50 507.27,141.49 510.37,141.49 513.50,141.49" fill="none" stroke="#666" stroke-width="0.8"/>
<polyline points="312.20,240.20 312.20,240.20 312.20,240.20 312.21,240.20 312.22,240.19 312.23,240.19 312.25,240.18 312.28,240.16 312.31,240.13 312.35,240.10 312.40,240.05 312.45,239.99 312.51,239.91 312.58,239.81 312.66,239.69 312.74,239.55 312.84,239.38 312.94,239.18 313.05,238.94 313.18,238.68 313.31,238.37 313.46,238.03 313.61,237.64 313.78,237.20 313.95,236.72 314.14,236.19 314.34,235.60 314.55,234.96 314.78,234.27 315.02,233.52 315.26,232.71 315.53,231.85 315.80,230.92 316.09,229.94 316.39,228.91 316.71,227.81 317.03,226.66 317.38,225.46 317.73,224.21 318.10,222.90 318.49,221.55 318.89,220.16 319.31,218.73 319.74,217.26 320.18,215.76 320.64,214.23 321.12,212.68 321.61,211.11 322.12,209.52 322.65,207.91 323.19,206.30 323.75,204.69 324.32,203.07 324.91,201.46 325.52,199.85 326.15,198.26 326.79,196.67 327.45,195.11 328.13,193.56 328.82,192.03 329.53,190.53 330.27,189.05 331.02,187.60 331.78,186.17 332.57,184.78 333.38,183.42 334.20,182.09 335.04,180.79 335.90,179.53 336.78,178.30 337.69,177.10 338.61,175.94 339.54,174.81 340.50,173.71 341.48,172.65 342.48,171.62 343.50,170.63 344.54,169.66 345.60,168.73 346.68,167.83 347.79,166.96 348.91,166.11 350.05,165.30 351.22,164.51 352.40,163.75 353.61,163.02 354.84,162.32 356.09,161.63 357.36,160.98 358.65,160.34 359.97,159.73 361.31,159.14 362.67,158.58 364.05,158.03 365.46,157.50 366.88,156.99 368.33,156.50 369.81,156.03 371.30,155.57 372.82,155.13 374.36,154.71 375.93,154.30 377.52,153.91 379.13,153.53 380.77,153.16 382.43,152.81 384.11,152.47 385.82,152.14 387.55,151.82 389.31,151.51 391.09,151.22 392.90,150.93 394.73,150.66 396.58,150.39 398.46,150.14 400.36,149.89 402.29,149.65 404.25,149.42 406.23,149.20 408.23,148.98 410.26,148.77 412.32,148.57 414.40,148.38 416.51,148.19 418.64,148.01 420.80,147.83 422.98,147.66 425.19,147.49 427.43,147.34 429.69,147.18 431.98,147.03 434.30,146.89 436.65,146.75 439.02,146.61 441.41,146.48 443.84,146.35 446.29,146.23 448.77,146.11 451.27,146.00 453.81,145.88 456.37,145.77 458.95,145.67 461.57,145.57 464.21,145.47 466.89,145.37 469.59,145.28 472.31,145.19 475.07,145.10 477.85,145.01 480.66,144.93 483.51,144.85 486.38,144.77 489.27,144.70 492.20,144.62 495.16,144.55 498.14,144.48 501.15,144.41 504.20,144.35 507.27,144.28 510.37,144.22 513.50,144.16" fill="none" stroke="#8a8a8a" stroke-width="0.8"/>
<path d="M315.50 142.19L320.70 146.61M315.50 146.61L320.70 142.19" stroke="#2a2a2a" stroke-width="0.8" fill="none"/>
<path d="M321.80 140.54L327.00 144.96M321.80 144.96L327.00 140.54" stroke="#2a2a2a" stroke-width="0.8" fill="none"/>
<path d="M334.90 139.69L340.10 144.11M334.90 144.11L340.10 139.69" stroke="#2a2a2a" stroke-width="0.8" fill="none"/>
<path d="M359.90 139.69L365.10 144.11M359.90 144.11L365.10 139.69" stroke="#2a2a2a" stroke-width="0.8" fill="none"/>
<path d="M313.00 166.29L318.20 170.71M313.00 170.71L318.20 166.29" stroke="#2a2a2a" stroke-width="0.8" fill="none"/>
<path d="M409.70 139.79L414.90 144.21M409.70 144.21L414.90 139.79" stroke="#2a2a2a" stroke-width="0.8" fill="none"/>
<path d="M311.40 208.79L316.60 213.21M311.40 213.21L316.60 208.79" stroke="#2a2a2a" stroke-width="0.8" fill="none"/>
<path d="M310.90 222.79L316.10 227.21M310.90 227.21L316.10 222.79" stroke="#2a2a2a" stroke-width="0.8" fill="none"/>
<path d="M315.50 156.50L320.70 156.50M318.10 153.90L318.10 159.10" stroke="#2a2a2a" stroke-width="0.8" fill="none"/>
<path d="M321.80 146.90L327.00 146.90M324.40 144.30L324.40 149.50" stroke="#2a2a2a" stroke-width="0.8" fill="none"/>
<path d="M334.90 144.40L340.10 144.40M337.50 141.80L337.50 147.00" stroke="#2a2a2a" stroke-width="0.8" fill="none"/>
<path d="M359.90 142.50L365.10 142.50M362.50 139.90L362.50 145.10" stroke="#2a2a2a" stroke-width="0.8" fill="none"/>
<path d="M409.70 142.30L414.90 142.30M412.30 139.70L412.30 144.90" stroke="#2a2a2a" stroke-width="0.8" fill="none"/>
<path d="M312.70 200.70L317.90 200.70M315.30 198.10L315.30 203.30" stroke="#2a2a2a" stroke-width="0.8" fill="none"/>
<path d="M310.90 232.00L316.10 232.00M313.50 229.40L313.50 234.60" stroke="#2a2a2a" stroke-width="0.8" fill="none"/>
<circle cx="337.25" cy="186.50" r="2.15" stroke="#3a3a3a" stroke-width="0.85" fill="none"/><circle cx="337.25" cy="186.50" r="1.25" fill="#151515"/>
<circle cx="362.25" cy="168.50" r="2.15" stroke="#3a3a3a" stroke-width="0.85" fill="none"/><circle cx="362.25" cy="168.50" r="1.25" fill="#151515"/>
<circle cx="412.30" cy="150.00" r="2.15" stroke="#3a3a3a" stroke-width="0.85" fill="none"/><circle cx="412.30" cy="150.00" r="1.25" fill="#151515"/>
<circle cx="513.10" cy="143.60" r="2.15" stroke="#3a3a3a" stroke-width="0.85" fill="none"/><circle cx="513.10" cy="143.60" r="1.25" fill="#151515"/>
<circle cx="324.50" cy="206.90" r="2.15" stroke="#3a3a3a" stroke-width="0.85" fill="none"/><circle cx="324.50" cy="206.90" r="1.25" fill="#151515"/>
<circle cx="318.80" cy="225.50" r="2.15" stroke="#3a3a3a" stroke-width="0.85" fill="none"/><circle cx="318.80" cy="225.50" r="1.25" fill="#151515"/>
<circle cx="315.25" cy="229.30" r="2.15" stroke="#3a3a3a" stroke-width="0.85" fill="none"/><circle cx="315.25" cy="229.30" r="1.25" fill="#151515"/>
<circle cx="313.70" cy="234.80" r="2.15" stroke="#3a3a3a" stroke-width="0.85" fill="none"/><circle cx="313.70" cy="234.80" r="1.25" fill="#151515"/>
<line x1="52.40" y1="281.00" x2="52.40" y2="386.80" stroke="#2a2a2a" stroke-width="1"/>
<line x1="40.40" y1="380.50" x2="251.40" y2="380.50" stroke="#333" stroke-width="1.05"/>
<text x="41.40" y="386.10" font-size="11" text-anchor="end">0</text>
<line x1="46.40" y1="360.70" x2="52.40" y2="360.70" stroke="#2a2a2a" stroke-width="1"/>
<text x="46.80" y="366.30" font-size="11" text-anchor="end">0.2</text>
<line x1="46.40" y1="340.90" x2="52.40" y2="340.90" stroke="#2a2a2a" stroke-width="1"/>
<text x="46.80" y="346.50" font-size="11" text-anchor="end">0.4</text>
<line x1="46.40" y1="321.10" x2="52.40" y2="321.10" stroke="#2a2a2a" stroke-width="1"/>
<text x="46.80" y="326.70" font-size="11" text-anchor="end">0.6</text>
<line x1="46.40" y1="301.30" x2="52.40" y2="301.30" stroke="#2a2a2a" stroke-width="1"/>
<text x="46.80" y="306.90" font-size="11" text-anchor="end">0.8</text>
<line x1="46.40" y1="281.50" x2="52.40" y2="281.50" stroke="#2a2a2a" stroke-width="1"/>
<text x="46.80" y="287.10" font-size="11" text-anchor="end">1.0</text>
<text x="51.20" y="394.70" font-size="11" text-anchor="middle">0</text>
<line x1="92.10" y1="380.50" x2="92.10" y2="383.50" stroke="#2a2a2a" stroke-width="1"/>
<text x="91.30" y="394.70" font-size="11" text-anchor="middle">2</text>
<line x1="131.80" y1="380.50" x2="131.80" y2="383.50" stroke="#2a2a2a" stroke-width="1"/>
<text x="131.00" y="394.70" font-size="11" text-anchor="middle">4</text>
<line x1="171.50" y1="380.50" x2="171.50" y2="383.50" stroke="#2a2a2a" stroke-width="1"/>
<text x="170.70" y="394.70" font-size="11" text-anchor="middle">6</text>
<line x1="211.20" y1="380.50" x2="211.20" y2="383.50" stroke="#2a2a2a" stroke-width="1"/>
<text x="210.40" y="394.70" font-size="11" text-anchor="middle">8</text>
<line x1="250.90" y1="380.50" x2="250.90" y2="383.50" stroke="#2a2a2a" stroke-width="1"/>
<text x="250.10" y="394.70" font-size="11" text-anchor="middle">10</text>
<text x="253.70" y="311.30" font-size="11.2" text-anchor="end">BaF3-E255K</text>
<text x="232.30" y="372.90" font-size="20" text-anchor="start" font-weight="bold">E</text>
<polyline points="52.40,380.50 52.40,380.47 52.40,380.33 52.41,380.00 52.42,379.42 52.43,378.54 52.45,377.33 52.48,375.78 52.51,373.86 52.55,371.60 52.59,369.01 52.65,366.13 52.71,363.00 52.77,359.66 52.85,356.18 52.93,352.60 53.03,348.98 53.13,345.37 53.24,341.80 53.36,338.31 53.50,334.92 53.64,331.67 53.79,328.57 53.96,325.62 54.13,322.83 54.32,320.20 54.51,317.73 54.72,315.43 54.94,313.27 55.18,311.26 55.42,309.39 55.68,307.65 55.95,306.04 56.23,304.54 56.53,303.14 56.84,301.85 57.17,300.65 57.50,299.53 57.86,298.49 58.22,297.53 58.60,296.63 59.00,295.80 59.41,295.02 59.83,294.29 60.27,293.62 60.73,292.99 61.20,292.40 61.68,291.85 62.19,291.33 62.70,290.85 63.24,290.40 63.79,289.97 64.35,289.58 64.94,289.20 65.54,288.85 66.15,288.52 66.79,288.21 67.44,287.92 68.10,287.64 68.79,287.38 69.49,287.14 70.21,286.90 70.95,286.68 71.71,286.48 72.49,286.28 73.28,286.09 74.09,285.91 74.92,285.75 75.77,285.59 76.64,285.43 77.53,285.29 78.44,285.15 79.36,285.02 80.31,284.90 81.28,284.78 82.26,284.67 83.27,284.56 84.29,284.46 85.34,284.36 86.40,284.26 87.49,284.17 88.60,284.09 89.72,284.01 90.87,283.93 92.04,283.85 93.23,283.78 94.44,283.71 95.68,283.64 96.93,283.58 98.21,283.52 99.50,283.46 100.82,283.40 102.17,283.35 103.53,283.30 104.91,283.25 106.32,283.20 107.75,283.15 109.21,283.11 110.68,283.06 112.18,283.02 113.70,282.98 115.24,282.94 116.81,282.91 118.40,282.87 120.02,282.84 121.65,282.80 123.31,282.77 125.00,282.74 126.71,282.71 128.44,282.68 130.19,282.65 131.97,282.62 133.78,282.60 135.61,282.57 137.46,282.55 139.34,282.52 141.24,282.50 143.17,282.48 145.12,282.45 147.10,282.43 149.10,282.41 151.12,282.39 153.18,282.37 155.25,282.35 157.36,282.33 159.49,282.32 161.64,282.30 163.82,282.28 166.03,282.27 168.26,282.25 170.52,282.24 172.80,282.22 175.11,282.21 177.45,282.19 179.82,282.18 182.21,282.16 184.62,282.15 187.07,282.14 189.54,282.13 192.04,282.11 194.56,282.10 197.11,282.09 199.69,282.08 202.30,282.07 204.93,282.06 207.60,282.05 210.29,282.04 213.00,282.03 215.75,282.02 218.52,282.01 221.32,282.00 224.15,281.99 227.01,281.98 229.90,281.97 232.81,281.97 235.75,281.96 238.73,281.95 241.73,281.94 244.75,281.94 247.81,281.93 250.90,281.92" fill="none" stroke="#666" stroke-width="0.8"/>
<polyline points="52.40,380.50 52.40,380.49 52.40,380.45 52.41,380.33 52.42,380.10 52.43,379.74 52.45,379.21 52.48,378.50 52.51,377.57 52.55,376.42 52.59,375.03 52.65,373.41 52.71,371.55 52.77,369.48 52.85,367.20 52.93,364.73 53.03,362.12 53.13,359.37 53.24,356.53 53.36,353.63 53.50,350.70 53.64,347.76 53.79,344.85 53.96,341.98 54.13,339.18 54.32,336.46 54.51,333.83 54.72,331.31 54.94,328.90 55.18,326.60 55.42,324.43 55.68,322.37 55.95,320.42 56.23,318.59 56.53,316.86 56.84,315.24 57.17,313.73 57.50,312.30 57.86,310.97 58.22,309.73 58.60,308.56 59.00,307.47 59.41,306.45 59.83,305.49 60.27,304.60 60.73,303.76 61.20,302.98 61.68,302.25 62.19,301.56 62.70,300.92 63.24,300.32 63.79,299.75 64.35,299.22 64.94,298.72 65.54,298.26 66.15,297.82 66.79,297.40 67.44,297.01 68.10,296.64 68.79,296.30 69.49,295.97 70.21,295.66 70.95,295.37 71.71,295.10 72.49,294.84 73.28,294.59 74.09,294.36 74.92,294.14 75.77,293.93 76.64,293.73 77.53,293.54 78.44,293.36 79.36,293.19 80.31,293.03 81.28,292.88 82.26,292.73 83.27,292.60 84.29,292.46 85.34,292.34 86.40,292.22 87.49,292.10 88.60,291.99 89.72,291.89 90.87,291.79 92.04,291.69 93.23,291.60 94.44,291.51 95.68,291.43 96.93,291.35 98.21,291.27 99.50,291.20 100.82,291.13 102.17,291.06 103.53,291.00 104.91,290.93 106.32,290.87 107.75,290.82 109.21,290.76 110.68,290.71 112.18,290.66 113.70,290.61 115.24,290.56 116.81,290.51 118.40,290.47 120.02,290.43 121.65,290.39 123.31,290.35 125.00,290.31 126.71,290.27 128.44,290.24 130.19,290.20 131.97,290.17 133.78,290.14 135.61,290.11 137.46,290.08 139.34,290.05 141.24,290.02 143.17,289.99 145.12,289.97 147.10,289.94 149.10,289.92 151.12,289.90 153.18,289.87 155.25,289.85 157.36,289.83 159.49,289.81 161.64,289.79 163.82,289.77 166.03,289.75 168.26,289.73 170.52,289.71 172.80,289.70 175.11,289.68 177.45,289.66 179.82,289.65 182.21,289.63 184.62,289.62 187.07,289.60 189.54,289.59 192.04,289.57 194.56,289.56 197.11,289.55 199.69,289.54 202.30,289.52 204.93,289.51 207.60,289.50 210.29,289.49 213.00,289.48 215.75,289.47 218.52,289.46 221.32,289.45 224.15,289.44 227.01,289.43 229.90,289.42 232.81,289.41 235.75,289.40 238.73,289.39 241.73,289.38 244.75,289.37 247.81,289.36 250.90,289.36" fill="none" stroke="#666" stroke-width="0.8"/>
<polyline points="52.40,380.50 52.40,380.50 52.40,380.50 52.41,380.49 52.42,380.48 52.43,380.46 52.45,380.44 52.48,380.40 52.51,380.36 52.55,380.30 52.59,380.23 52.65,380.14 52.71,380.04 52.77,379.92 52.85,379.79 52.93,379.63 53.03,379.45 53.13,379.25 53.24,379.03 53.36,378.79 53.50,378.52 53.64,378.22 53.79,377.90 53.96,377.55 54.13,377.18 54.32,376.78 54.51,376.35 54.72,375.89 54.94,375.41 55.18,374.89 55.42,374.35 55.68,373.78 55.95,373.18 56.23,372.55 56.53,371.89 56.84,371.21 57.17,370.49 57.50,369.76 57.86,368.99 58.22,368.20 58.60,367.39 59.00,366.56 59.41,365.70 59.83,364.82 60.27,363.92 60.73,363.00 61.20,362.06 61.68,361.11 62.19,360.14 62.70,359.15 63.24,358.16 63.79,357.15 64.35,356.13 64.94,355.10 65.54,354.06 66.15,353.02 66.79,351.97 67.44,350.91 68.10,349.86 68.79,348.80 69.49,347.74 70.21,346.68 70.95,345.62 71.71,344.57 72.49,343.51 73.28,342.47 74.09,341.43 74.92,340.39 75.77,339.36 76.64,338.34 77.53,337.33 78.44,336.32 79.36,335.33 80.31,334.34 81.28,333.37 82.26,332.41 83.27,331.46 84.29,330.52 85.34,329.59 86.40,328.68 87.49,327.78 88.60,326.89 89.72,326.02 90.87,325.16 92.04,324.32 93.23,323.48 94.44,322.67 95.68,321.86 96.93,321.07 98.21,320.30 99.50,319.53 100.82,318.79 102.17,318.05 103.53,317.33 104.91,316.63 106.32,315.93 107.75,315.26 109.21,314.59 110.68,313.94 112.18,313.30 113.70,312.67 115.24,312.06 116.81,311.46 118.40,310.87 120.02,310.30 121.65,309.73 123.31,309.18 125.00,308.64 126.71,308.11 128.44,307.60 130.19,307.09 131.97,306.60 133.78,306.11 135.61,305.64 137.46,305.18 139.34,304.72 141.24,304.28 143.17,303.85 145.12,303.42 147.10,303.01 149.10,302.60 151.12,302.20 153.18,301.82 155.25,301.44 157.36,301.06 159.49,300.70 161.64,300.35 163.82,300.00 166.03,299.66 168.26,299.33 170.52,299.00 172.80,298.68 175.11,298.37 177.45,298.07 179.82,297.77 182.21,297.48 184.62,297.20 187.07,296.92 189.54,296.65 192.04,296.38 194.56,296.12 197.11,295.86 199.69,295.61 202.30,295.37 204.93,295.13 207.60,294.89 210.29,294.67 213.00,294.44 215.75,294.22 218.52,294.01 221.32,293.80 224.15,293.59 227.01,293.39 229.90,293.19 232.81,293.00 235.75,292.81 238.73,292.62 241.73,292.44 244.75,292.26 247.81,292.09 250.90,291.92" fill="none" stroke="#8a8a8a" stroke-width="0.8"/>
<path d="M55.50 284.04L60.70 288.46M55.50 288.46L60.70 284.04" stroke="#2a2a2a" stroke-width="0.8" fill="none"/>
<path d="M61.80 282.79L67.00 287.21M61.80 287.21L67.00 282.79" stroke="#2a2a2a" stroke-width="0.8" fill="none"/>
<path d="M74.65 281.79L79.85 286.21M74.65 286.21L79.85 281.79" stroke="#2a2a2a" stroke-width="0.8" fill="none"/>
<path d="M99.30 281.29L104.50 285.71M99.30 285.71L104.50 281.29" stroke="#2a2a2a" stroke-width="0.8" fill="none"/>
<path d="M53.00 308.39L58.20 312.81M53.00 312.81L58.20 308.39" stroke="#2a2a2a" stroke-width="0.8" fill="none"/>
<path d="M149.10 282.29L154.30 286.71M149.10 286.71L154.30 282.29" stroke="#2a2a2a" stroke-width="0.8" fill="none"/>
<path d="M51.50 351.69L56.70 356.11M51.50 356.11L56.70 351.69" stroke="#2a2a2a" stroke-width="0.8" fill="none"/>
<path d="M49.40 367.89L54.60 372.31M49.40 372.31L54.60 367.89" stroke="#2a2a2a" stroke-width="0.8" fill="none"/>
<path d="M55.50 289.40L60.70 289.40M58.10 286.80L58.10 292.00" stroke="#2a2a2a" stroke-width="0.8" fill="none"/>
<path d="M61.80 286.00L67.00 286.00M64.40 283.40L64.40 288.60" stroke="#2a2a2a" stroke-width="0.8" fill="none"/>
<path d="M74.65 285.00L79.85 285.00M77.25 282.40L77.25 287.60" stroke="#2a2a2a" stroke-width="0.8" fill="none"/>
<path d="M99.30 284.00L104.50 284.00M101.90 281.40L101.90 286.60" stroke="#2a2a2a" stroke-width="0.8" fill="none"/>
<path d="M52.40 329.40L57.60 329.40M55.00 326.80L55.00 332.00" stroke="#2a2a2a" stroke-width="0.8" fill="none"/>
<path d="M149.10 284.80L154.30 284.80M151.70 282.20L151.70 287.40" stroke="#2a2a2a" stroke-width="0.8" fill="none"/>
<path d="M50.40 357.00L55.60 357.00M53.00 354.40L53.00 359.60" stroke="#2a2a2a" stroke-width="0.8" fill="none"/>
<circle cx="101.90" cy="325.60" r="2.15" stroke="#3a3a3a" stroke-width="0.85" fill="none"/><circle cx="101.90" cy="325.60" r="1.25" fill="#151515"/>
<circle cx="151.70" cy="304.50" r="2.15" stroke="#3a3a3a" stroke-width="0.85" fill="none"/><circle cx="151.70" cy="304.50" r="1.25" fill="#151515"/>
<circle cx="250.90" cy="289.40" r="2.15" stroke="#3a3a3a" stroke-width="0.85" fill="none"/><circle cx="250.90" cy="289.40" r="1.25" fill="#151515"/>
<circle cx="77.30" cy="345.00" r="2.15" stroke="#3a3a3a" stroke-width="0.85" fill="none"/><circle cx="77.30" cy="345.00" r="1.25" fill="#151515"/>
<circle cx="64.20" cy="354.20" r="2.15" stroke="#3a3a3a" stroke-width="0.85" fill="none"/><circle cx="64.20" cy="354.20" r="1.25" fill="#151515"/>
<circle cx="58.80" cy="365.50" r="2.15" stroke="#3a3a3a" stroke-width="0.85" fill="none"/><circle cx="58.80" cy="365.50" r="1.25" fill="#151515"/>
<circle cx="54.90" cy="370.10" r="2.15" stroke="#3a3a3a" stroke-width="0.85" fill="none"/><circle cx="54.90" cy="370.10" r="1.25" fill="#151515"/>
<circle cx="53.80" cy="377.90" r="2.15" stroke="#3a3a3a" stroke-width="0.85" fill="none"/><circle cx="53.80" cy="377.90" r="1.25" fill="#151515"/>
<line x1="313.90" y1="278.80" x2="313.90" y2="387.10" stroke="#2a2a2a" stroke-width="1"/>
<line x1="301.90" y1="380.80" x2="512.90" y2="380.80" stroke="#333" stroke-width="1.05"/>
<text x="302.90" y="386.40" font-size="11" text-anchor="end">0</text>
<line x1="307.90" y1="360.50" x2="313.90" y2="360.50" stroke="#2a2a2a" stroke-width="1"/>
<text x="308.30" y="366.10" font-size="11" text-anchor="end">0.2</text>
<line x1="307.90" y1="340.20" x2="313.90" y2="340.20" stroke="#2a2a2a" stroke-width="1"/>
<text x="308.30" y="345.80" font-size="11" text-anchor="end">0.4</text>
<line x1="307.90" y1="319.90" x2="313.90" y2="319.90" stroke="#2a2a2a" stroke-width="1"/>
<text x="308.30" y="325.50" font-size="11" text-anchor="end">0.6</text>
<line x1="307.90" y1="299.60" x2="313.90" y2="299.60" stroke="#2a2a2a" stroke-width="1"/>
<text x="308.30" y="305.20" font-size="11" text-anchor="end">0.8</text>
<line x1="307.90" y1="279.30" x2="313.90" y2="279.30" stroke="#2a2a2a" stroke-width="1"/>
<text x="308.30" y="284.90" font-size="11" text-anchor="end">1.0</text>
<text x="312.70" y="395.00" font-size="11" text-anchor="middle">0</text>
<line x1="353.60" y1="380.80" x2="353.60" y2="383.80" stroke="#2a2a2a" stroke-width="1"/>
<text x="352.80" y="395.00" font-size="11" text-anchor="middle">2</text>
<line x1="393.30" y1="380.80" x2="393.30" y2="383.80" stroke="#2a2a2a" stroke-width="1"/>
<text x="392.50" y="395.00" font-size="11" text-anchor="middle">4</text>
<line x1="433.00" y1="380.80" x2="433.00" y2="383.80" stroke="#2a2a2a" stroke-width="1"/>
<text x="432.20" y="395.00" font-size="11" text-anchor="middle">6</text>
<line x1="472.70" y1="380.80" x2="472.70" y2="383.80" stroke="#2a2a2a" stroke-width="1"/>
<text x="471.90" y="395.00" font-size="11" text-anchor="middle">8</text>
<line x1="512.40" y1="380.80" x2="512.40" y2="383.80" stroke="#2a2a2a" stroke-width="1"/>
<text x="511.60" y="395.00" font-size="11" text-anchor="middle">10</text>
<text x="511.30" y="311.50" font-size="11.2" text-anchor="end">BaF3-T315I</text>
<text x="493.40" y="373.20" font-size="20" text-anchor="start" font-weight="bold">F</text>
<polyline points="313.90,380.80 313.90,380.80 313.90,380.77 313.91,380.68 313.92,380.49 313.93,380.15 313.95,379.64 313.98,378.90 314.01,377.89 314.05,376.59 314.09,374.97 314.15,373.01 314.21,370.72 314.27,368.10 314.35,365.17 314.43,361.98 314.53,358.55 314.63,354.93 314.74,351.19 314.86,347.38 315.00,343.54 315.14,339.73 315.29,335.99 315.46,332.35 315.63,328.84 315.82,325.48 316.01,322.30 316.22,319.29 316.44,316.47 316.68,313.82 316.92,311.36 317.18,309.07 317.45,306.94 317.73,304.98 318.03,303.16 318.34,301.49 318.67,299.94 319.00,298.51 319.36,297.20 319.72,295.99 320.10,294.87 320.50,293.84 320.91,292.90 321.33,292.02 321.77,291.21 322.23,290.47 322.70,289.77 323.18,289.14 323.69,288.55 324.20,288.00 324.74,287.49 325.29,287.02 325.85,286.58 326.44,286.17 327.04,285.79 327.65,285.44 328.29,285.11 328.94,284.80 329.60,284.52 330.29,284.25 330.99,284.00 331.71,283.76 332.45,283.54 333.21,283.34 333.99,283.14 334.78,282.96 335.59,282.79 336.42,282.63 337.27,282.48 338.14,282.33 339.03,282.20 339.94,282.07 340.86,281.95 341.81,281.84 342.78,281.73 343.76,281.63 344.77,281.53 345.79,281.44 346.84,281.36 347.90,281.28 348.99,281.20 350.10,281.12 351.22,281.05 352.37,280.99 353.54,280.92 354.73,280.86 355.94,280.81 357.18,280.75 358.43,280.70 359.71,280.65 361.00,280.60 362.32,280.56 363.67,280.51 365.03,280.47 366.41,280.43 367.82,280.39 369.25,280.36 370.71,280.32 372.18,280.29 373.68,280.26 375.20,280.23 376.74,280.20 378.31,280.17 379.90,280.14 381.52,280.12 383.15,280.09 384.81,280.07 386.50,280.05 388.21,280.02 389.94,280.00 391.69,279.98 393.47,279.96 395.28,279.94 397.11,279.93 398.96,279.91 400.84,279.89 402.74,279.87 404.67,279.86 406.62,279.84 408.60,279.83 410.60,279.82 412.62,279.80 414.68,279.79 416.75,279.78 418.86,279.76 420.99,279.75 423.14,279.74 425.32,279.73 427.53,279.72 429.76,279.71 432.02,279.70 434.30,279.69 436.61,279.68 438.95,279.67 441.32,279.66 443.71,279.65 446.12,279.64 448.57,279.64 451.04,279.63 453.54,279.62 456.06,279.61 458.61,279.61 461.19,279.60 463.80,279.59 466.43,279.59 469.10,279.58 471.79,279.57 474.50,279.57 477.25,279.56 480.02,279.56 482.82,279.55 485.65,279.54 488.51,279.54 491.40,279.53 494.31,279.53 497.25,279.52 500.23,279.52 503.23,279.52 506.25,279.51 509.31,279.51 512.40,279.50" fill="none" stroke="#222" stroke-width="1.0"/>
<polyline points="313.90,380.80 313.90,380.80 313.90,380.75 313.91,380.61 313.92,380.29 313.93,379.73 313.95,378.84 313.98,377.55 314.01,375.79 314.05,373.52 314.09,370.72 314.15,367.40 314.21,363.60 314.27,359.39 314.35,354.86 314.43,350.12 314.53,345.26 314.63,340.41 314.74,335.63 314.86,331.03 315.00,326.64 315.14,322.51 315.29,318.67 315.46,315.12 315.63,311.86 315.82,308.90 316.01,306.20 316.22,303.76 316.44,301.55 316.68,299.56 316.92,297.77 317.18,296.16 317.45,294.70 317.73,293.40 318.03,292.22 318.34,291.15 318.67,290.19 319.00,289.33 319.36,288.54 319.72,287.83 320.10,287.19 320.50,286.60 320.91,286.07 321.33,285.58 321.77,285.14 322.23,284.74 322.70,284.37 323.18,284.03 323.69,283.72 324.20,283.44 324.74,283.17 325.29,282.93 325.85,282.71 326.44,282.50 327.04,282.31 327.65,282.14 328.29,281.97 328.94,281.82 329.60,281.68 330.29,281.55 330.99,281.43 331.71,281.32 332.45,281.21 333.21,281.11 333.99,281.02 334.78,280.93 335.59,280.85 336.42,280.78 337.27,280.71 338.14,280.64 339.03,280.58 339.94,280.52 340.86,280.46 341.81,280.41 342.78,280.36 343.76,280.31 344.77,280.27 345.79,280.23 346.84,280.19 347.90,280.15 348.99,280.12 350.10,280.08 351.22,280.05 352.37,280.02 353.54,279.99 354.73,279.97 355.94,279.94 357.18,279.92 358.43,279.89 359.71,279.87 361.00,279.85 362.32,279.83 363.67,279.81 365.03,279.79 366.41,279.78 367.82,279.76 369.25,279.74 370.71,279.73 372.18,279.71 373.68,279.70 375.20,279.69 376.74,279.67 378.31,279.66 379.90,279.65 381.52,279.64 383.15,279.63 384.81,279.62 386.50,279.61 388.21,279.60 389.94,279.59 391.69,279.58 393.47,279.57 395.28,279.56 397.11,279.56 398.96,279.55 400.84,279.54 402.74,279.53 404.67,279.53 406.62,279.52 408.60,279.52 410.60,279.51 412.62,279.50 414.68,279.50 416.75,279.49 418.86,279.49 420.99,279.48 423.14,279.48 425.32,279.47 427.53,279.47 429.76,279.46 432.02,279.46 434.30,279.46 436.61,279.45 438.95,279.45 441.32,279.44 443.71,279.44 446.12,279.44 448.57,279.43 451.04,279.43 453.54,279.43 456.06,279.42 458.61,279.42 461.19,279.42 463.80,279.42 466.43,279.41 469.10,279.41 471.79,279.41 474.50,279.41 477.25,279.40 480.02,279.40 482.82,279.40 485.65,279.40 488.51,279.39 491.40,279.39 494.31,279.39 497.25,279.39 500.23,279.39 503.23,279.38 506.25,279.38 509.31,279.38 512.40,279.38" fill="none" stroke="#222" stroke-width="0.9" stroke-dasharray="2 1.2"/>
<polyline points="313.90,380.80 313.90,380.80 313.90,380.80 313.91,380.80 313.92,380.80 313.93,380.80 313.95,380.80 313.98,380.80 314.01,380.80 314.05,380.80 314.09,380.80 314.15,380.80 314.21,380.80 314.27,380.80 314.35,380.80 314.43,380.80 314.53,380.79 314.63,380.79 314.74,380.79 314.86,380.79 315.00,380.78 315.14,380.78 315.29,380.77 315.46,380.77 315.63,380.76 315.82,380.75 316.01,380.75 316.22,380.74 316.44,380.73 316.68,380.71 316.92,380.70 317.18,380.68 317.45,380.66 317.73,380.64 318.03,380.62 318.34,380.60 318.67,380.57 319.00,380.54 319.36,380.51 319.72,380.47 320.10,380.43 320.50,380.39 320.91,380.35 321.33,380.30 321.77,380.24 322.23,380.18 322.70,380.12 323.18,380.05 323.69,379.98 324.20,379.90 324.74,379.82 325.29,379.73 325.85,379.64 326.44,379.53 327.04,379.42 327.65,379.31 328.29,379.19 328.94,379.06 329.60,378.92 330.29,378.77 330.99,378.62 331.71,378.46 332.45,378.29 333.21,378.11 333.99,377.92 334.78,377.72 335.59,377.51 336.42,377.29 337.27,377.06 338.14,376.81 339.03,376.56 339.94,376.30 340.86,376.02 341.81,375.73 342.78,375.43 343.76,375.12 344.77,374.80 345.79,374.46 346.84,374.11 347.90,373.75 348.99,373.37 350.10,372.98 351.22,372.58 352.37,372.16 353.54,371.73 354.73,371.29 355.94,370.83 357.18,370.36 358.43,369.87 359.71,369.37 361.00,368.86 362.32,368.33 363.67,367.79 365.03,367.23 366.41,366.66 367.82,366.08 369.25,365.48 370.71,364.87 372.18,364.25 373.68,363.62 375.20,362.97 376.74,362.31 378.31,361.64 379.90,360.95 381.52,360.26 383.15,359.55 384.81,358.83 386.50,358.10 388.21,357.37 389.94,356.62 391.69,355.86 393.47,355.10 395.28,354.32 397.11,353.54 398.96,352.75 400.84,351.96 402.74,351.16 404.67,350.35 406.62,349.54 408.60,348.72 410.60,347.89 412.62,347.07 414.68,346.24 416.75,345.41 418.86,344.57 420.99,343.73 423.14,342.90 425.32,342.06 427.53,341.22 429.76,340.38 432.02,339.54 434.30,338.70 436.61,337.86 438.95,337.03 441.32,336.20 443.71,335.37 446.12,334.54 448.57,333.72 451.04,332.90 453.54,332.09 456.06,331.28 458.61,330.48 461.19,329.68 463.80,328.89 466.43,328.10 469.10,327.32 471.79,326.55 474.50,325.78 477.25,325.02 480.02,324.27 482.82,323.53 485.65,322.79 488.51,322.06 491.40,321.34 494.31,320.63 497.25,319.93 500.23,319.23 503.23,318.55 506.25,317.87 509.31,317.20 512.40,316.54" fill="none" stroke="#8a8a8a" stroke-width="0.8"/>
<line x1="313.90" y1="380.50" x2="343.67" y2="380.50" stroke="#444" stroke-width="1.2"/>
<path d="M316.80 280.29L322.00 284.71M316.80 284.71L322.00 280.29" stroke="#111" stroke-width="1.0" fill="none"/>
<path d="M323.00 279.69L328.20 284.11M323.00 284.11L328.20 279.69" stroke="#111" stroke-width="1.0" fill="none"/>
<path d="M335.90 279.04L341.10 283.46M335.90 283.46L341.10 279.04" stroke="#111" stroke-width="1.0" fill="none"/>
<path d="M360.50 278.39L365.70 282.81M360.50 282.81L365.70 278.39" stroke="#111" stroke-width="1.0" fill="none"/>
<path d="M313.65 307.19L318.85 311.61M313.65 311.61L318.85 307.19" stroke="#111" stroke-width="1.0" fill="none"/>
<path d="M410.10 278.19L415.30 282.61M410.10 282.61L415.30 278.19" stroke="#111" stroke-width="1.0" fill="none"/>
<path d="M311.90 358.29L317.10 362.71M311.90 362.71L317.10 358.29" stroke="#111" stroke-width="1.0" fill="none"/>
<path d="M311.90 364.79L317.10 369.21M311.90 369.21L317.10 364.79" stroke="#111" stroke-width="1.0" fill="none"/>
<path d="M311.90 369.79L317.10 374.21M311.90 374.21L317.10 369.79" stroke="#111" stroke-width="1.0" fill="none"/>
<path d="M311.90 373.79L317.10 378.21M311.90 378.21L317.10 373.79" stroke="#111" stroke-width="1.0" fill="none"/>
<path d="M311.90 376.79L317.10 381.21M311.90 381.21L317.10 376.79" stroke="#111" stroke-width="1.0" fill="none"/>
<path d="M316.80 282.50L322.00 282.50M319.40 279.90L319.40 285.10" stroke="#111" stroke-width="1.0" fill="none"/>
<path d="M323.00 281.90L328.20 281.90M325.60 279.30L325.60 284.50" stroke="#111" stroke-width="1.0" fill="none"/>
<path d="M335.90 281.25L341.10 281.25M338.50 278.65L338.50 283.85" stroke="#111" stroke-width="1.0" fill="none"/>
<path d="M360.50 280.60L365.70 280.60M363.10 278.00L363.10 283.20" stroke="#111" stroke-width="1.0" fill="none"/>
<path d="M313.90 318.00L319.10 318.00M316.50 315.40L316.50 320.60" stroke="#111" stroke-width="1.0" fill="none"/>
<path d="M410.10 280.40L415.30 280.40M412.70 277.80L412.70 283.00" stroke="#111" stroke-width="1.0" fill="none"/>
<path d="M311.90 364.00L317.10 364.00M314.50 361.40L314.50 366.60" stroke="#111" stroke-width="1.0" fill="none"/>
<path d="M311.90 370.00L317.10 370.00M314.50 367.40L314.50 372.60" stroke="#111" stroke-width="1.0" fill="none"/>
<path d="M311.90 374.50L317.10 374.50M314.50 371.90L314.50 377.10" stroke="#111" stroke-width="1.0" fill="none"/>
<path d="M311.90 378.00L317.10 378.00M314.50 375.40L314.50 380.60" stroke="#111" stroke-width="1.0" fill="none"/>
<circle cx="363.00" cy="355.90" r="2.15" stroke="#3a3a3a" stroke-width="0.85" fill="none"/><circle cx="363.00" cy="355.90" r="1.25" fill="#151515"/>
<circle cx="413.00" cy="355.90" r="2.15" stroke="#3a3a3a" stroke-width="0.85" fill="none"/><circle cx="413.00" cy="355.90" r="1.25" fill="#151515"/>
<circle cx="512.20" cy="362.60" r="2.15" stroke="#3a3a3a" stroke-width="0.85" fill="none"/><circle cx="512.20" cy="362.60" r="1.25" fill="#151515"/>
<circle cx="338.00" cy="362.90" r="2.15" stroke="#3a3a3a" stroke-width="0.85" fill="none"/><circle cx="338.00" cy="362.90" r="1.25" fill="#151515"/>
<circle cx="325.70" cy="375.40" r="2.15" stroke="#3a3a3a" stroke-width="0.85" fill="none"/><circle cx="325.70" cy="375.40" r="1.25" fill="#151515"/>
<circle cx="319.60" cy="379.00" r="2.15" stroke="#3a3a3a" stroke-width="0.85" fill="none"/><circle cx="319.60" cy="379.00" r="1.25" fill="#151515"/>
<circle cx="316.00" cy="380.00" r="2.15" stroke="#3a3a3a" stroke-width="0.85" fill="none"/><circle cx="316.00" cy="380.00" r="1.25" fill="#151515"/>
<circle cx="314.50" cy="380.30" r="2.15" stroke="#3a3a3a" stroke-width="0.85" fill="none"/><circle cx="314.50" cy="380.30" r="1.25" fill="#151515"/>
<line x1="19.50" y1="8.00" x2="19.50" y2="381.50" stroke="#222" stroke-width="1"/>
<path d="M19.5 3.5L22.6 9.3L16.4 9.3Z" fill="#111"/>
<line x1="51.50" y1="398.60" x2="509.00" y2="398.60" stroke="#222" stroke-width="1"/>
<path d="M514.3 398.6L508 395.6L508 401.6Z" fill="#111"/>
<text transform="translate(8.1,199.5) rotate(-90)" font-size="11" font-weight="bold">Effect</text>
<text x="256.20" y="420.90" font-size="11.3" text-anchor="start" font-weight="bold">Dose (µM)</text>
<path d="M169.80 442.89L176.40 448.50M169.80 448.50L176.40 442.89" stroke="#4a4a4a" stroke-width="0.75" fill="none"/>
<text x="188.50" y="451.70" font-size="11.3" text-anchor="start" font-weight="bold">PHA358+IM</text>
<path d="M284.10 445.80L290.10 445.80M287.10 442.80L287.10 448.80" stroke="#555" stroke-width="0.7" fill="none"/>
<text x="300.70" y="451.70" font-size="11.3" text-anchor="start" font-weight="bold">PHA358</text>
<ellipse cx="373.8" cy="445.2" rx="3.4" ry="2.8" stroke="#444" stroke-width="0.6" fill="none"/><circle cx="373.8" cy="445.2" r="1.1" fill="#333"/>
<text x="386.00" y="451.70" font-size="11" text-anchor="start" font-weight="bold">IM</text>
</svg></body></html>
